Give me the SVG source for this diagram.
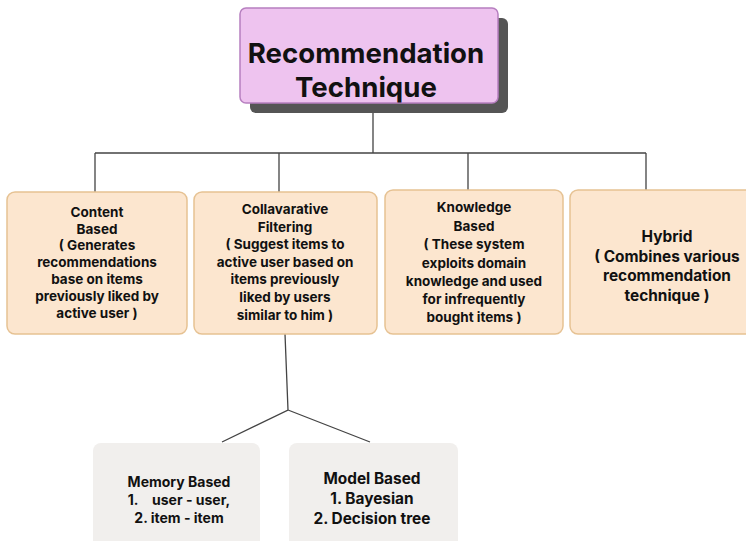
<svg xmlns="http://www.w3.org/2000/svg" width="746" height="541" viewBox="0 0 746 541">
<style>
text{font-family:Inter,"Liberation Sans",sans-serif;fill:#111;text-anchor:middle;dominant-baseline:central}
.t{font-size:27.6px;font-weight:700}
.b{font-size:13.5px;font-weight:700}
.m{font-size:14px;font-weight:700}
.h{font-size:15.4px;font-weight:700}
.peach{fill:#fce6cf;stroke:#e6c293;stroke-width:1.5}
.gray{fill:#f1efed;stroke:none}
.c{fill:none;stroke:#444;stroke-width:1.3}
</style>
<rect width="746" height="541" fill="#fff"/>
<g id="connectors">
<path class="c" d="M373 113V153M95 153H646M95 153V192M279 153V192M468 153V190M646 153V190"/>
<path class="c" d="M285 334L288 410L222 442M288 410L370 442"/>
</g>
<g id="root">
<rect x="250" y="18" width="258" height="95" rx="6" fill="#555"/>
<rect x="240" y="8" width="258" height="95" rx="6" fill="#eec3ef" stroke="#b77fc0" stroke-width="1.5"/>
<text class="t" x="366" y="53">Recommendation</text>
<text class="t" x="366" y="87">Technique</text>
</g>
<g id="content">
<rect class="peach" x="7" y="192" width="180" height="142" rx="8"/>
<text class="b" x="97" y="212">Content</text>
<text class="b" x="97" y="229">Based</text>
<text class="b" x="97" y="245">( Generates</text>
<text class="b" x="97" y="262">recommendations</text>
<text class="b" x="97" y="279">base on items</text>
<text class="b" x="97" y="296">previously liked by</text>
<text class="b" x="97" y="313">active user )</text>
</g>
<g id="collab">
<rect class="peach" x="194" y="192" width="183" height="142" rx="8"/>
<text class="b" x="285" y="209">Collavarative</text>
<text class="b" x="285" y="227">Filtering</text>
<text class="b" x="285" y="244">( Suggest items to</text>
<text class="b" x="285" y="262">active user based on</text>
<text class="b" x="285" y="279">items previously</text>
<text class="b" x="285" y="297">liked by users</text>
<text class="b" x="285" y="315">similar to him )</text>
</g>
<g id="knowledge">
<rect class="peach" x="385" y="190" width="178" height="144" rx="8"/>
<text class="b" x="474" y="207">Knowledge</text>
<text class="b" x="474" y="226">Based</text>
<text class="b" x="474" y="244">( These system</text>
<text class="b" x="474" y="263">exploits domain</text>
<text class="b" x="474" y="281">knowledge and used</text>
<text class="b" x="474" y="299">for infrequently</text>
<text class="b" x="474" y="317">bought items )</text>
</g>
<g id="hybrid">
<rect class="peach" x="570" y="190" width="190" height="144" rx="8"/>
<text class="h" x="667" y="236">Hybrid</text>
<text class="h" x="667" y="256">( Combines various</text>
<text class="h" x="667" y="275">recommendation</text>
<text class="h" x="667" y="295">technique )</text>
</g>
<g id="memory">
<rect class="gray" x="93" y="443" width="167" height="110" rx="8"/>
<text class="m" x="179" y="481">Memory Based</text>
<text class="m" x="133" y="499" font-weight="400">1.</text>
<text class="m" x="152" y="499" style="text-anchor:start">user - user,</text>
<text class="m" x="179" y="517">2. item - item</text>
</g>
<g id="model">
<rect class="gray" x="289" y="443" width="169" height="110" rx="8"/>
<text class="h" x="372" y="478">Model Based</text>
<text class="h" x="372" y="498">1. Bayesian</text>
<text class="h" x="372" y="518">2. Decision tree</text>
</g>
</svg>
